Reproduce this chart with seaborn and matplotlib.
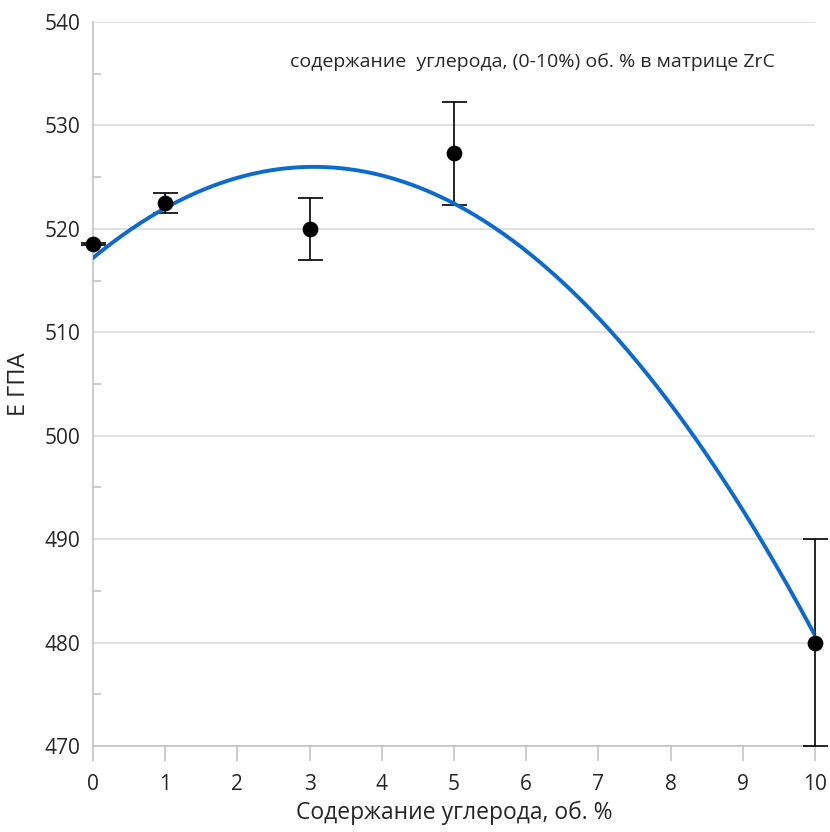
import numpy as np
import pandas as pd
import matplotlib
matplotlib.use("Agg")
import matplotlib.pyplot as plt
import seaborn as sns
from matplotlib.ticker import MultipleLocator

carbon = [0, 1, 3, 5, 10]
modulus = [518.5, 522.5, 520.0, 527.3, 480.0]
errors = [0.1, 1.0, 3.0, 5.0, 10.0]
x_ticks = list(range(0, 11))
y_ticks = [470, 480, 490, 500, 510, 520, 530, 540]

sns.set_theme(style="white")
plt.rcParams['font.family'] = ['Open Sans', 'DejaVu Sans']

fig = plt.figure(figsize=(8.3, 8.32), dpi=100)
ax = fig.add_axes([0.112, 0.1034, 0.870, 0.8702])

df = pd.DataFrame({"x": carbon, "y": modulus})

# quadratic trendline
coef = np.polyfit(carbon, modulus, 2)
xs = np.linspace(0, 10, 300)
trend = pd.DataFrame({"x": xs, "y": np.polyval(coef, xs)})

eb = ax.errorbar(carbon, modulus, yerr=errors, fmt="none", ecolor="black",
                 elinewidth=1.2, capsize=9, capthick=1.2, zorder=3)
for art in eb.lines[1] + eb.lines[2]:
    art.set_clip_on(False)
sns.lineplot(data=trend, x="x", y="y", ax=ax, color="#0A6AD2", lw=2.8, zorder=4)
sns.scatterplot(data=df, x="x", y="y", ax=ax, color="black", s=110,
                edgecolor="black", zorder=5, clip_on=False)

ax.set_xlim(0, 10)
ax.set_ylim(470, 540)
ax.set_xticks(x_ticks)
ax.set_yticks(y_ticks)
ax.yaxis.set_minor_locator(MultipleLocator(5))
ax.grid(axis="y", which="major", color="#D9D9D9", lw=1.1)
ax.set_axisbelow(True)

for s in ["top", "right"]:
    ax.spines[s].set_visible(False)
for s in ["left", "bottom"]:
    ax.spines[s].set_color("#BFBFBF")
    ax.spines[s].set_linewidth(1.1)

ax.tick_params(axis="x", which="major", direction="out", length=11, width=1.1,
               color="#BFBFBF", labelsize=15, pad=9, bottom=True)
ax.tick_params(axis="y", which="major", length=0, labelsize=15, pad=9, left=False)
ax.tick_params(axis="y", which="minor", direction="in", length=6, width=1.1,
               color="#BFBFBF", left=True)

ax.set_xlabel("Содержание углерода, об. %", fontsize=16.5, labelpad=4)
ax.set_ylabel("E ГПА", fontsize=17, labelpad=10)

ax.text(0.945, 0.945, "содержание  углерода, (0-10%) об. % в матрице ZrC",
        transform=ax.transAxes, ha="right", va="center", fontsize=14)

fig.savefig("out.png", dpi=100)
